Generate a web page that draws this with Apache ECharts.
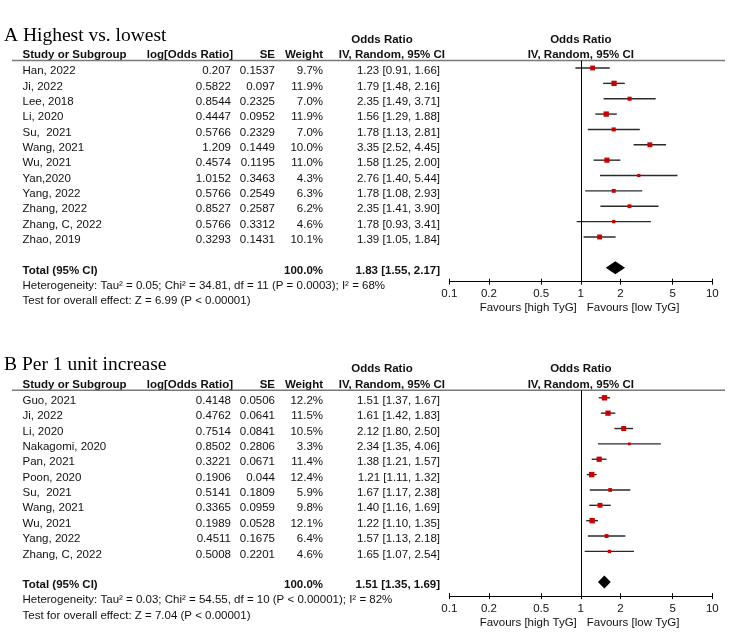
<!DOCTYPE html>
<html><head><meta charset="utf-8">
<script src="https://cdn.jsdelivr.net/npm/echarts@6/dist/echarts.min.js"></script>
<style>html,body{margin:0;padding:0;background:#fff}#c{width:737px;height:634px}</style>
</head><body><div id="c"></div>
<script>
// ---------- Panel A data ----------
const titleA = 'A Highest vs. lowest';
const studiesA = ['Han, 2022','Ji, 2022','Lee, 2018','Li, 2020','Su,  2021','Wang, 2021','Wu, 2021','Yan,2020','Yang, 2022','Zhang, 2022','Zhang, C, 2022','Zhao, 2019'];
const logOrA = ['0.207','0.5822','0.8544','0.4447','0.5766','1.209','0.4574','1.0152','0.5766','0.8527','0.5766','0.3293'];
const seA = ['0.1537','0.097','0.2325','0.0952','0.2329','0.1449','0.1195','0.3463','0.2549','0.2587','0.3312','0.1431'];
const weightA = [9.7,11.9,7.0,11.9,7.0,10.0,11.0,4.3,6.3,6.2,4.6,10.1];
const orA = [1.23,1.79,2.35,1.56,1.78,3.35,1.58,2.76,1.78,2.35,1.78,1.39];
const lowA = [0.91,1.48,1.49,1.29,1.13,2.52,1.25,1.40,1.08,1.41,0.93,1.05];
const highA = [1.66,2.16,3.71,1.88,2.81,4.45,2.00,5.44,2.93,3.90,3.41,1.84];
const totalA = [1.83,1.55,2.17];
const hetA = 'Heterogeneity: Tau\u00b2 = 0.05; Chi\u00b2 = 34.81, df = 11 (P = 0.0003); I\u00b2 = 68%';
const testA = 'Test for overall effect: Z = 6.99 (P < 0.00001)';

// ---------- Panel B data ----------
const titleB = 'B Per 1 unit increase';
const studiesB = ['Guo, 2021','Ji, 2022','Li, 2020','Nakagomi, 2020','Pan, 2021','Poon, 2020','Su,  2021','Wang, 2021','Wu, 2021','Yang, 2022','Zhang, C, 2022'];
const logOrB = ['0.4148','0.4762','0.7514','0.8502','0.3221','0.1906','0.5141','0.3365','0.1989','0.4511','0.5008'];
const seB = ['0.0506','0.0641','0.0841','0.2806','0.0671','0.044','0.1809','0.0959','0.0528','0.1675','0.2201'];
const weightB = [12.2,11.5,10.5,3.3,11.4,12.4,5.9,9.8,12.1,6.4,4.6];
const orB = [1.51,1.61,2.12,2.34,1.38,1.21,1.67,1.40,1.22,1.57,1.65];
const lowB = [1.37,1.42,1.80,1.35,1.21,1.11,1.17,1.16,1.10,1.13,1.07];
const highB = [1.67,1.83,2.50,4.06,1.57,1.32,2.38,1.69,1.35,2.18,2.54];
const totalB = [1.51,1.35,1.69];
const hetB = 'Heterogeneity: Tau\u00b2 = 0.03; Chi\u00b2 = 54.55, df = 10 (P < 0.00001); I\u00b2 = 82%';
const testB = 'Test for overall effect: Z = 7.04 (P < 0.00001)';

// ---------- shared ----------
const tickValues = [0.1,0.2,0.5,1,2,5,10];
const headers = ['Study or Subgroup','log[Odds Ratio]','SE','Weight','Odds Ratio','IV, Random, 95% CI'];
const totalLabel = 'Total (95% CI)';
const totalWeight = '100.0%';
const favoursLeft = 'Favours [high TyG]';
const favoursRight = 'Favours [low TyG]';

// ---------- layout ----------
const FONT = '"Liberation Sans", Arial, sans-serif';
const F_REG = '11.5px ' + FONT;
const F_BOLD = 'bold 11.5px ' + FONT;
const TXT = '#111';
const PLOT_LEFT = 449.3, PLOT_W = 263, ROW = 15.36;
const X_NAME = 22.5, X_LOG = 231, X_SE = 275, X_W = 323, X_CI = 440;
const TXT_OFF = 3;

const panels = [
  {title: titleA, studies: studiesA, logOr: logOrA, se: seA, w: weightA, or: orA, lo: lowA, hi: highA, total: totalA, het: hetA, test: testA, yU: 60.5},
  {title: titleB, studies: studiesB, logOr: logOrB, se: seB, w: weightB, or: orB, lo: lowB, hi: highB, total: totalB, het: hetB, test: testB, yU: 390.3}
];

const f2 = v => v.toFixed(2);
const ciText = (o,l,h) => f2(o) + ' [' + f2(l) + ', ' + f2(h) + ']';
const logTicks = tickValues.map(v => Math.log10(v));

const grid = [], xAxis = [], yAxis = [], series = [], graphic = [];

panels.forEach((p, i) => {
  const n = p.studies.length;
  const h = (n + 2.4) * ROW;
  const axisY = p.yU + h;
  grid.push({left: PLOT_LEFT, width: PLOT_W, top: p.yU, height: h, containLabel: false});
  yAxis.push({gridIndex: i, type: 'value', inverse: true, min: -7.5 / ROW, max: n + 1 + 14 / ROW, show: false});
  xAxis.push({
    gridIndex: i, type: 'value', min: -1, max: 1, position: 'bottom',
    axisLine: {show: true, onZero: false, lineStyle: {color: '#000', width: 1}},
    axisTick: {show: true, customValues: logTicks, length: 3, inside: false, lineStyle: {color: '#000', width: 1}},
    axisLabel: {show: true, customValues: logTicks, margin: 6.5, fontSize: 11.5, fontFamily: FONT, color: TXT,
      formatter: v => String(+Math.pow(10, v).toPrecision(2))},
    splitLine: {show: false}
  });
  xAxis.push({
    gridIndex: i, type: 'value', min: -1, max: 1, position: 'bottom',
    axisLine: {show: false, onZero: false},
    axisTick: {show: true, customValues: logTicks, length: 3, inside: true, lineStyle: {color: '#000', width: 1}},
    axisLabel: {show: false}, splitLine: {show: false}
  });
  const xi = 2 * i;

  // study CIs and markers
  series.push({
    type: 'custom', xAxisIndex: xi, yAxisIndex: i, clip: false, silent: true,
    data: p.studies.map((s, k) => [Math.log10(p.lo[k]), Math.log10(p.hi[k]), Number(p.logOr[k]) / Math.LN10, k, p.w[k]]),
    renderItem: (params, api) => {
      const lo = api.coord([api.value(0), api.value(3)]);
      const hi = api.coord([api.value(1), api.value(3)]);
      const pt = api.coord([api.value(2), api.value(3)]);
      const s = Math.sqrt(api.value(4)) * 1.55;
      return {type: 'group', children: [
        {type: 'line', shape: {x1: lo[0], y1: lo[1], x2: hi[0], y2: hi[1]}, style: {stroke: '#2a2a2a', lineWidth: 1.4}},
        {type: 'rect', shape: {x: pt[0] - s / 2, y: pt[1] - s / 2, width: s, height: s}, style: {fill: '#cc0000'}}
      ]};
    },
    markLine: {silent: true, symbol: ['none', 'none'], label: {show: false},
      lineStyle: {color: '#000', width: 1, type: 'solid'}, data: [{xAxis: 0}]}
  });

  // pooled diamond
  series.push({
    type: 'custom', xAxisIndex: xi, yAxisIndex: i, clip: false, silent: true,
    data: [[Math.log10(p.total[1]), Math.log10(p.total[2]), Math.log10(p.total[0]), n + 1]],
    renderItem: (params, api) => {
      const lo = api.coord([api.value(0), api.value(3)]);
      const hi = api.coord([api.value(1), api.value(3)]);
      const pt = api.coord([api.value(2), api.value(3)]);
      const d = 6.5;
      return {type: 'polygon', shape: {points: [[lo[0], lo[1]], [pt[0], pt[1] - d], [hi[0], hi[1]], [pt[0], pt[1] + d]]}, style: {fill: '#000'}};
    }
  });

  // table text (rows positioned through the same y axis)
  const rows = p.studies.map((s, k) => ({kind: 'study', k: k, row: k}));
  rows.push({kind: 'total', row: n + 1});
  rows.push({kind: 'het', row: n + 1.97});
  rows.push({kind: 'test', row: n + 2.97});
  series.push({
    type: 'custom', xAxisIndex: xi, yAxisIndex: i, clip: false, silent: true,
    data: rows.map(r => [0, r.row]),
    renderItem: (params, api) => {
      const r = rows[params.dataIndex];
      const y = api.coord([0, api.value(1)])[1] + TXT_OFF;
      const t = (text, x, align, font) => ({type: 'text', style: {text: text, x: x, y: y, align: align, verticalAlign: 'middle', font: font || F_REG, fill: TXT}});
      if (r.kind === 'study') {
        const k = r.k;
        return {type: 'group', children: [
          t(p.studies[k], X_NAME, 'left'),
          t(p.logOr[k], X_LOG, 'right'),
          t(p.se[k], X_SE, 'right'),
          t(p.w[k].toFixed(1) + '%', X_W, 'right'),
          t(ciText(p.or[k], p.lo[k], p.hi[k]), X_CI, 'right')
        ]};
      }
      if (r.kind === 'total') {
        return {type: 'group', children: [
          t(totalLabel, X_NAME, 'left', F_BOLD),
          t(totalWeight, X_W, 'right', F_BOLD),
          t(ciText(p.total[0], p.total[1], p.total[2]), X_CI, 'right', F_BOLD)
        ]};
      }
      return t(r.kind === 'het' ? p.het : p.test, X_NAME, 'left');
    }
  });

  // titles, headers, rule, favours labels
  const x1 = PLOT_LEFT + PLOT_W / 2;
  const h1 = p.yU - 21, h2 = p.yU - 5.5;
  const gt = (text, x, y, align, font, va) => ({type: 'text', silent: true, style: {text: text, x: x, y: y, align: align, verticalAlign: va || 'middle', font: font, fill: TXT}});
  graphic.push(
    {type: 'text', silent: true, style: {text: p.title, x: 4, y: p.yU - 35, align: 'left', verticalAlign: 'alphabetic', font: '19.5px "Liberation Serif", "Times New Roman", serif', fill: '#000'}},
    gt(headers[4], 382, h1, 'center', F_BOLD),
    gt(headers[4], x1, h1, 'center', F_BOLD),
    gt(headers[0], X_NAME, h2, 'left', F_BOLD),
    gt(headers[1], 233, h2, 'right', F_BOLD),
    gt(headers[2], X_SE, h2, 'right', F_BOLD),
    gt(headers[3], X_W, h2, 'right', F_BOLD),
    gt(headers[5], 445, h2, 'right', F_BOLD),
    gt(headers[5], x1, h2, 'center', F_BOLD),
    {type: 'line', silent: true, shape: {x1: 12, y1: p.yU, x2: 725, y2: p.yU}, style: {stroke: '#7a7a7a', lineWidth: 1.6}},
    gt(favoursLeft, x1 - 4, axisY + 26.5, 'right', F_REG),
    gt(favoursRight, x1 + 6, axisY + 26.5, 'left', F_REG)
  );
});

const chart = echarts.init(document.getElementById('c'), null, {renderer: 'canvas'});
chart.setOption({
  backgroundColor: '#fff',
  animation: false,
  grid: grid, xAxis: xAxis, yAxis: yAxis, series: series, graphic: graphic
});
</script>
</body></html>
